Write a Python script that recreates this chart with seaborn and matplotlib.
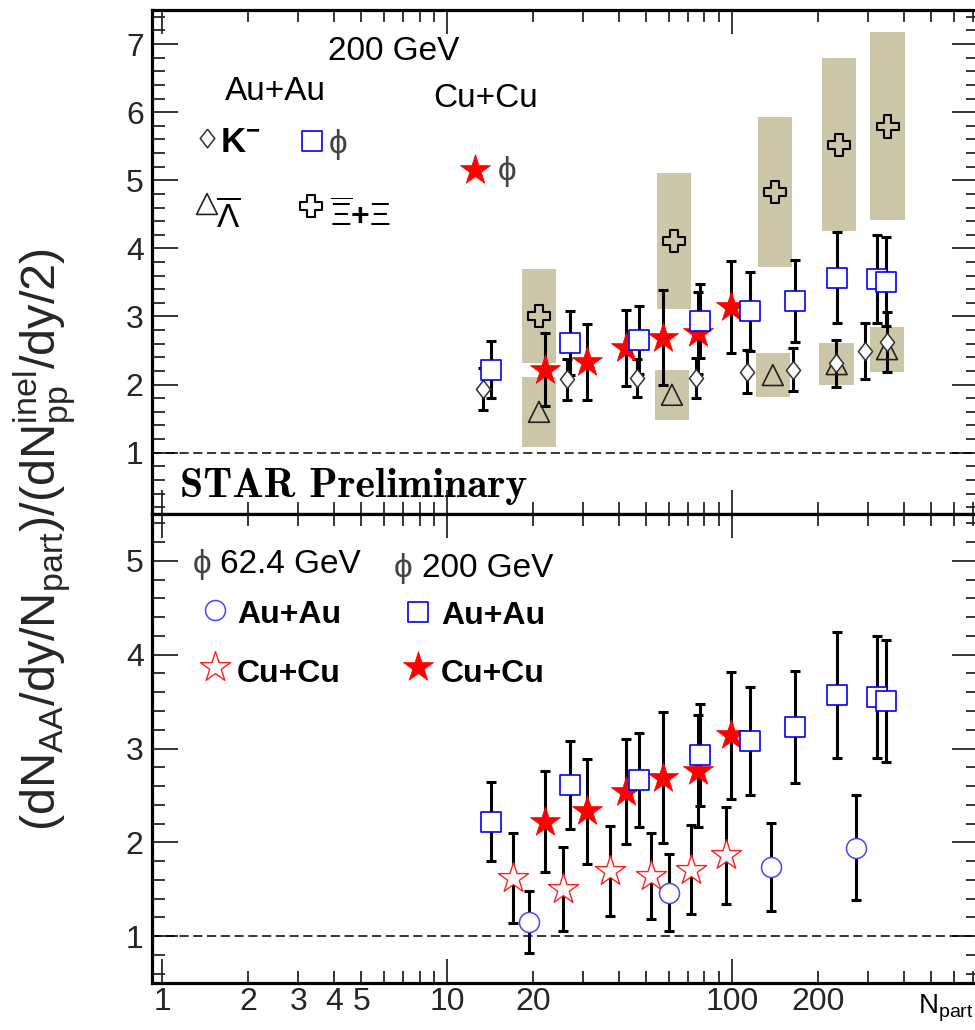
import numpy as np
import matplotlib
matplotlib.use("Agg")
import matplotlib.pyplot as plt
from matplotlib.markers import MarkerStyle
from matplotlib.ticker import FixedLocator, MultipleLocator, FuncFormatter, NullFormatter
import seaborn as sns

# ---------------- data: scaled yields vs N_part ----------------
# phi, Au+Au 200 GeV
npart_phi_auau200 = [14.2, 27.0, 47.2, 77.0, 116.0, 166.0, 233.0, 323.0, 347.0]
ratio_phi_auau200 = [2.22, 2.61, 2.66, 2.93, 3.08, 3.23, 3.57, 3.55, 3.51]
err_phi_auau200 = [0.42, 0.47, 0.50, 0.54, 0.58, 0.60, 0.67, 0.65, 0.65]

# phi, Cu+Cu 200 GeV
npart_phi_cucu200 = [22.1, 31.0, 42.5, 57.3, 76.0, 99.0]
ratio_phi_cucu200 = [2.22, 2.33, 2.54, 2.69, 2.76, 3.14]
err_phi_cucu200 = [0.54, 0.56, 0.56, 0.70, 0.60, 0.68]

# phi, Cu+Cu 62.4 GeV
npart_phi_cucu62 = [17.0, 25.5, 37.3, 52.0, 71.8, 95.3]
ratio_phi_cucu62 = [1.62, 1.50, 1.69, 1.64, 1.71, 1.86]
err_phi_cucu62 = [0.48, 0.45, 0.48, 0.46, 0.47, 0.52]

# phi, Au+Au 62.4 GeV
npart_phi_auau62 = [19.4, 60.0, 137.0, 272.0]
ratio_phi_auau62 = [1.15, 1.46, 1.74, 1.94]
err_phi_auau62 = [0.33, 0.41, 0.47, 0.56]

# K-, Au+Au 200 GeV
npart_kminus = [13.4, 26.4, 46.4, 74.7, 113.0, 164.0, 232.0, 293.0, 350.0]
ratio_kminus = [1.94, 2.08, 2.10, 2.10, 2.19, 2.22, 2.31, 2.49, 2.63]
err_kminus = [0.31, 0.30, 0.28, 0.29, 0.32, 0.32, 0.34, 0.41, 0.44]

# anti-Lambda, Au+Au 200 GeV (systematic band)
npart_lambda = [21.0, 61.5, 139.0, 233.0, 350.0]
ratio_lambda = [1.60, 1.85, 2.14, 2.30, 2.52]
sys_lambda = [0.51, 0.37, 0.32, 0.31, 0.33]

# Xi + anti-Xi, Au+Au 200 GeV (systematic band)
npart_xi = [21.0, 62.6, 141.6, 237.0, 352.0]
ratio_xi = [3.01, 4.11, 4.83, 5.52, 5.79]
sys_xi = [0.69, 1.00, 1.10, 1.27, 1.38]

# labelled x ticks
x_labelled_ticks = [1, 2, 3, 4, 5, 10, 20, 100, 200]
top_yticks = [1, 2, 3, 4, 5, 6, 7]
bottom_yticks = [1, 2, 3, 4, 5]

# ---------------- style ----------------
sns.set_theme(style="ticks")
plt.rcParams["font.family"] = ["Liberation Sans", "DejaVu Sans"]
plt.rcParams.update({
    "mathtext.fontset": "custom",
    "mathtext.rm": "Liberation Sans",
    "mathtext.it": "Liberation Sans:italic",
    "mathtext.bf": "Liberation Sans:bold",
    "mathtext.default": "regular",
    "axes.unicode_minus": False,
})

W, H = 975, 1030
BLUE = "#0000ff"
RED = "#ff0000"
BAND = "#cdc7aa"
PHI_GRAY = "#444444"
PHI = "\u03d5"

diamond = MarkerStyle(np.array([(0, 1), (0.78, 0), (0, -1), (-0.78, 0), (0, 1)]))

fig = plt.figure(figsize=(W / 100, H / 100), dpi=100)
left, right = 152, 978
ax_top = fig.add_axes([left / W, 1 - 514 / H, (right - left) / W, 504 / H])
ax_bot = fig.add_axes([left / W, 1 - 983 / H, (right - left) / W, 469 / H])


def fpos(x, y):
    return x / W, 1 - y / H


def style_axes(ax, ylim, yticks, show_xlabels):
    ax.set_xscale("log")
    ax.set_xlim(0.92, 730)
    ax.set_ylim(*ylim)
    ax.xaxis.set_major_locator(FixedLocator([1, 10, 100]))
    minors = [k * 10 ** d for d in range(0, 3) for k in range(2, 10)]
    ax.xaxis.set_minor_locator(FixedLocator(minors))
    if show_xlabels:
        fmt = FuncFormatter(lambda v, p: f"{v:g}" if round(v) in x_labelled_ticks else "")
        ax.xaxis.set_major_formatter(fmt)
        ax.xaxis.set_minor_formatter(fmt)
    else:
        ax.xaxis.set_major_formatter(NullFormatter())
        ax.xaxis.set_minor_formatter(NullFormatter())
    ax.yaxis.set_major_locator(FixedLocator(yticks))
    ax.yaxis.set_minor_locator(MultipleLocator(0.2))
    ax.yaxis.set_minor_formatter(NullFormatter())
    ax.tick_params(axis="x", which="major", direction="in", length=17, width=1.3,
                   top=True, bottom=True, labelsize=23, pad=3)
    ax.tick_params(axis="x", which="minor", direction="in", length=8.5, width=1.3,
                   top=True, bottom=True, labelsize=23, pad=3)
    ax.tick_params(axis="y", which="major", direction="in", length=19, width=1.3,
                   left=True, right=True, labelsize=23, pad=6)
    ax.tick_params(axis="y", which="minor", direction="in", length=9, width=1.3,
                   left=True, right=True)
    for s in ax.spines.values():
        s.set_linewidth(2.3)
        s.set_color("black")
    ax.set_xlabel("")
    ax.set_ylabel("")
    ax.axhline(1.0, color="black", lw=1.1, ls=(0, (6, 3)), zorder=2)


def bars(ax, x, y, e):
    ax.errorbar(x, y, yerr=e, fmt="none", ecolor="black", elinewidth=2.2,
                capsize=3.3, capthick=2.2, zorder=3)


def band(ax, x, y, s, half=1.15):
    x = np.asarray(x, float)
    y = np.asarray(y, float)
    s = np.asarray(s, float)
    ax.bar(x / half, 2 * s, width=x * (half - 1 / half), bottom=y - s,
           align="edge", color=BAND, edgecolor="none", zorder=1)


def points(ax, x, y, marker, s, fc, ec, lw, z=4):
    sns.scatterplot(x=list(x), y=list(y), marker=marker, s=s, facecolor=fc,
                    edgecolor=ec, linewidth=lw, zorder=z, legend=False, ax=ax)


# ---------------- top panel: 200 GeV ----------------
style_axes(ax_top, (0.1, 7.5), top_yticks, False)
band(ax_top, npart_lambda, ratio_lambda, sys_lambda)
band(ax_top, npart_xi, ratio_xi, sys_xi)
bars(ax_top, npart_kminus, ratio_kminus, err_kminus)
bars(ax_top, npart_phi_cucu200, ratio_phi_cucu200, err_phi_cucu200)
bars(ax_top, npart_phi_auau200, ratio_phi_auau200, err_phi_auau200)
points(ax_top, npart_lambda, ratio_lambda, "^", 225, "none", "#222222", 1.2)
points(ax_top, npart_xi, ratio_xi, "P", 256, "none", "black", 1.5)
points(ax_top, npart_kminus, ratio_kminus, diamond, 170, "white", "#333333", 1.1)
points(ax_top, npart_phi_cucu200, ratio_phi_cucu200, "*", 520, RED, RED, 0.5, z=5)
points(ax_top, npart_phi_auau200, ratio_phi_auau200, "s", 207, "white", BLUE, 1.2, z=6)

# ---------------- bottom panel: phi at 62.4 and 200 GeV ----------------
style_axes(ax_bot, (0.5, 5.5), bottom_yticks, True)
bars(ax_bot, npart_phi_cucu62, ratio_phi_cucu62, err_phi_cucu62)
bars(ax_bot, npart_phi_auau62, ratio_phi_auau62, err_phi_auau62)
bars(ax_bot, npart_phi_cucu200, ratio_phi_cucu200, err_phi_cucu200)
bars(ax_bot, npart_phi_auau200, ratio_phi_auau200, err_phi_auau200)
points(ax_bot, npart_phi_cucu62, ratio_phi_cucu62, "*", 520, "white", "#ff2020", 1.0)
points(ax_bot, npart_phi_auau62, ratio_phi_auau62, "o", 207, "white", "#4646ff", 1.1)
points(ax_bot, npart_phi_cucu200, ratio_phi_cucu200, "*", 520, RED, RED, 0.5, z=5)
points(ax_bot, npart_phi_auau200, ratio_phi_auau200, "s", 207, "white", BLUE, 1.2, z=6)


# ---------------- legend keys and labels ----------------
def key(ax, x, y, marker, s, fc, ec, lw):
    fx, fy = fpos(x, y)
    ax.scatter([fx], [fy], marker=marker, s=s, facecolor=fc, edgecolor=ec,
               linewidth=lw, transform=fig.transFigure, clip_on=False, zorder=10)


def label(x, y, txt, size=24, weight="normal", color="black", **kw):
    fx, fy = fpos(x, y)
    fig.text(fx, fy, txt, fontsize=size, fontweight=weight, color=color,
             ha="left", va="baseline", **kw)


label(328, 60, "200 GeV")
label(225, 100, "Au+Au")
label(433, 107, "Cu+Cu")
key(ax_top, 207, 138, diamond, 180, "white", "#333333", 1.1)
label(220, 152, r"$\mathbf{K}^{\mathbf{-}}$", size=25)
key(ax_top, 312, 141, "s", 207, "white", BLUE, 1.2)
label(329, 153, PHI, color=PHI_GRAY)
key(ax_top, 475, 170, "*", 520, RED, RED, 0.5)
label(498, 180, PHI, color=PHI_GRAY)
key(ax_top, 207, 204, "^", 225, "none", "#222222", 1.2)
label(216, 227, r"$\overline{\Lambda}$", size=24)
key(ax_top, 311, 206, "P", 256, "none", "black", 1.5)
label(330, 227, r"$\overline{\Xi}\mathbf{+}\Xi$", size=23)
label(180, 497, "STAR Preliminary", size=30, family="cmb10")

label(193, 573, PHI, color=PHI_GRAY)
label(220, 573, "62.4 GeV")
label(394, 577, PHI, color=PHI_GRAY)
label(422, 577, "200 GeV")
key(ax_bot, 215, 610, "o", 207, "white", "#4646ff", 1.1)
label(237, 623, "Au+Au", size=23, weight="bold")
key(ax_bot, 418, 612, "s", 207, "white", BLUE, 1.2)
label(441, 624, "Au+Au", size=23, weight="bold")
key(ax_bot, 215, 667, "*", 520, "white", "#ff2020", 1.0)
label(237, 682, "Cu+Cu", size=23, weight="bold")
key(ax_bot, 418, 667, "*", 520, RED, RED, 0.5)
label(441, 682, "Cu+Cu", size=23, weight="bold")

# axis titles
fx, fy = fpos(45, 540)
fig.text(fx, fy, r"$(dN_{AA}/dy/N_{part})/(dN_{pp}^{inel}/dy/2)$", rotation=90,
         ha="center", va="center", fontsize=35)
label(918, 1013, r"$N_{part}$", size=20)

fig.savefig("out.png", dpi=100)
